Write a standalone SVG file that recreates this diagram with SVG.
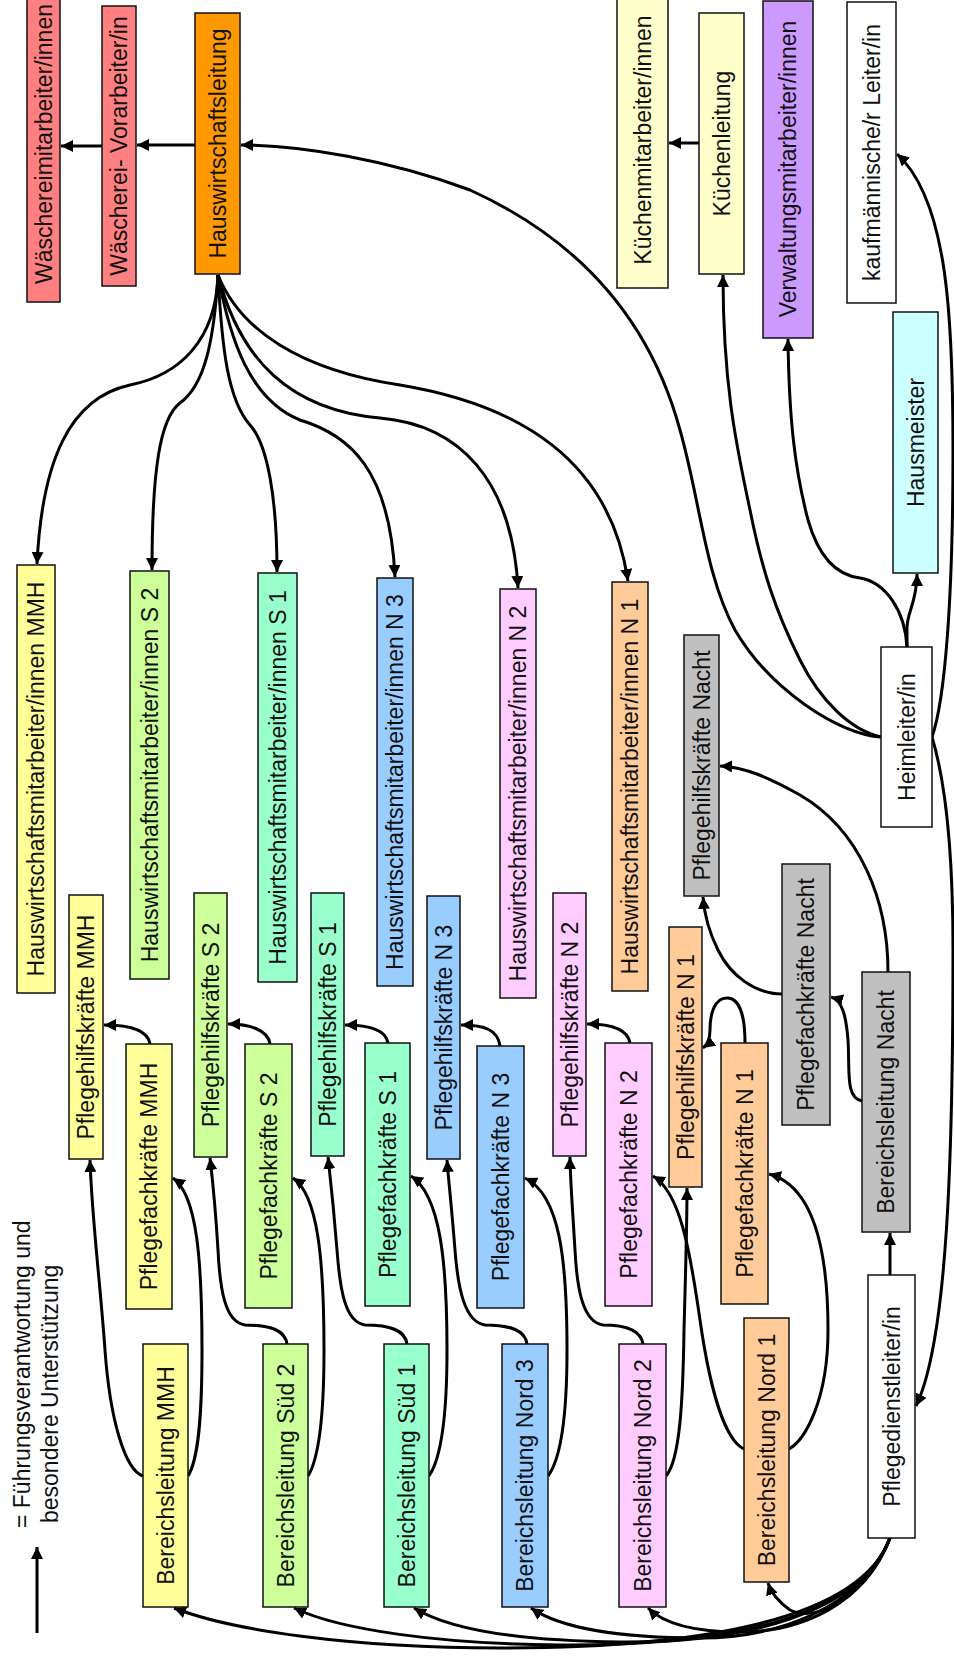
<svg xmlns="http://www.w3.org/2000/svg" width="954" height="1661" viewBox="0 0 954 1661">
<style>
.node rect{stroke:#111;stroke-width:1.5}
.node text{font-family:"Liberation Sans",Arial,sans-serif;font-size:23px;fill:#111;text-anchor:middle}
.edge path{fill:none;stroke:#000;stroke-width:3}
.legend text{font-family:"Liberation Sans",Arial,sans-serif;font-size:23px;fill:#111}
</style>
<defs>
<marker id="ah" viewBox="0 0 10 10" refX="10" refY="5" markerWidth="12" markerHeight="12" markerUnits="userSpaceOnUse" orient="auto">
<path d="M0,0 L10,5 L0,10 z" fill="#000"/>
</marker>
</defs>
<rect x="0" y="0" width="954" height="1661" fill="#fff"/>

<g id="edges" class="edge">
<path marker-end="url(#ah)" d="M195,145 L137,145"/>
<path marker-end="url(#ah)" d="M102,146 L61,146"/>
<path marker-end="url(#ah)" d="M699,143 L669,143"/>
<path marker-end="url(#ah)" d="M881,737 C840,735 770,690 735,630 C705,575 700,500 680,430 C650,320 580,240 470,190 C390,160 300,145 241,145"/>
<path marker-end="url(#ah)" d="M881,737 C850,730 820,700 800,660 C775,610 762,570 750,510 C735,440 723,380 723,275"/>
<path marker-end="url(#ah)" d="M907,647 C905,610 885,582 860,578 C835,575 818,555 808,520 C795,470 789,420 788,339"/>
<path marker-end="url(#ah)" d="M907,647 L907,628 C907,612 917,602 917,574"/>
<path marker-end="url(#ah)" d="M932,737 C945,700 953,600 953,450 C953,320 948,200 897,154"/>
<path marker-end="url(#ah)" d="M932,737 C945,780 953,850 953,950 C953,1150 948,1340 916,1406"/>
<path marker-end="url(#ah)" d="M218,275 C216,340 180,375 130,385 C70,398 42,460 37,564"/>
<path marker-end="url(#ah)" d="M218,275 C214,340 205,385 180,403 C160,418 152,470 152,570"/>
<path marker-end="url(#ah)" d="M218,275 C222,350 228,400 250,425 C268,445 277,500 277,572"/>
<path marker-end="url(#ah)" d="M218,275 C230,340 250,400 300,420 C350,435 390,470 395,577"/>
<path marker-end="url(#ah)" d="M218,275 C240,360 290,410 380,418 C460,425 512,480 518,588"/>
<path marker-end="url(#ah)" d="M218,275 C240,330 300,370 400,385 C520,405 610,460 628,581"/>
<path marker-end="url(#ah)" d="M150,1044 C148,1030 130,1025 104,1025"/>
<path marker-end="url(#ah)" d="M270,1044 C268,1030 250,1024 228,1024"/>
<path marker-end="url(#ah)" d="M388,1043 C386,1030 370,1025 345,1025"/>
<path marker-end="url(#ah)" d="M500,1046 C498,1030 485,1025 461,1025"/>
<path marker-end="url(#ah)" d="M630,1043 C628,1030 612,1024 587,1024"/>
<path marker-end="url(#ah)" d="M745,1043 C745,1012 738,998 727,998 C714,998 710,1015 710,1030 C710,1040 707,1045 703,1048"/>
<path marker-end="url(#ah)" d="M782,994 C755,994 730,975 718,950 C708,930 704,910 703,897"/>
<path marker-end="url(#ah)" d="M888,972 C888,900 860,830 800,795 C770,778 745,767 720,766"/>
<path marker-end="url(#ah)" d="M862,1101 C845,1098 850,1070 848,1040 C846,1015 842,1000 831,997"/>
<path marker-end="url(#ah)" d="M890,1275 L890,1233"/>
<path marker-end="url(#ah)" d="M143,1476 C125,1470 110,1420 105,1350 C100,1280 92,1220 90,1160"/>
<path marker-end="url(#ah)" d="M287,1344 C285,1330 270,1325 245,1325 C225,1322 220,1290 218,1250 C215,1200 212,1175 210,1158"/>
<path marker-end="url(#ah)" d="M407,1344 C405,1330 390,1325 365,1325 C345,1322 340,1290 337,1250 C333,1200 330,1175 328,1157"/>
<path marker-end="url(#ah)" d="M527,1344 C525,1330 510,1325 485,1325 C465,1322 458,1290 455,1250 C451,1200 448,1175 447,1160"/>
<path marker-end="url(#ah)" d="M643,1344 C641,1330 626,1325 603,1325 C583,1322 577,1290 575,1250 C572,1200 570,1175 570,1157"/>
<path marker-end="url(#ah)" d="M188,1476 C198,1460 202,1420 202,1350 C202,1260 197,1195 173,1178"/>
<path marker-end="url(#ah)" d="M308,1476 C318,1460 324,1420 324,1350 C324,1260 318,1195 293,1178"/>
<path marker-end="url(#ah)" d="M429,1476 C440,1460 447,1420 447,1350 C447,1260 440,1195 411,1176"/>
<path marker-end="url(#ah)" d="M548,1476 C560,1460 567,1420 567,1350 C567,1260 560,1195 525,1178"/>
<path marker-end="url(#ah)" d="M666,1476 C680,1460 683,1400 684,1330 C686,1260 687,1220 687,1188"/>
<path marker-end="url(#ah)" d="M744,1449 C725,1440 710,1390 700,1320 C690,1250 680,1192 653,1176"/>
<path marker-end="url(#ah)" d="M789,1449 C805,1440 828,1400 828,1330 C828,1240 810,1185 769,1174"/>
<path marker-end="url(#ah)" d="M890,1538 C860,1620 700,1648 500,1648 C350,1648 230,1630 174,1608"/>
<path marker-end="url(#ah)" d="M890,1538 C860,1620 720,1646 560,1645 C440,1644 340,1630 294,1608"/>
<path marker-end="url(#ah)" d="M890,1538 C860,1615 740,1643 620,1642 C520,1641 450,1630 414,1608"/>
<path marker-end="url(#ah)" d="M890,1538 C860,1612 770,1638 700,1638 C620,1638 560,1628 531,1608"/>
<path marker-end="url(#ah)" d="M890,1538 C865,1605 800,1632 740,1632 C700,1632 665,1625 648,1608"/>
<path marker-end="url(#ah)" d="M890,1538 C870,1590 820,1625 790,1610 C780,1603 772,1595 768,1583"/>
</g>

<g id="n_wasch_ma" class="node"><rect x="27" y="-10" width="33" height="312" fill="#FF8080"/><text transform="translate(43.5,144) rotate(-90)" dy="0.36em">Wäschereimitarbeiter/innen</text></g>
<g id="n_wasch_vor" class="node"><rect x="102" y="6" width="34" height="280" fill="#FF8080"/><text transform="translate(119,146) rotate(-90)" dy="0.36em">Wäscherei- Vorarbeiter/in</text></g>
<g id="n_hwl" class="node"><rect x="195" y="13" width="45" height="261" fill="#FF9900"/><text transform="translate(217.5,143.5) rotate(-90)" dy="0.36em">Hauswirtschaftsleitung</text></g>
<g id="n_kuech_ma" class="node"><rect x="617" y="-8" width="51" height="296" fill="#FFFFCC"/><text transform="translate(642.5,140) rotate(-90)" dy="0.36em">Küchenmitarbeiter/innen</text></g>
<g id="n_kuechl" class="node"><rect x="699" y="13" width="45" height="261" fill="#FFFFCC"/><text transform="translate(721.5,143.5) rotate(-90)" dy="0.36em">Küchenleitung</text></g>
<g id="n_verw" class="node"><rect x="763" y="1" width="50" height="337" fill="#CC99FF"/><text transform="translate(788,169) rotate(-90)" dy="0.36em">Verwaltungsmitarbeiter/innen</text></g>
<g id="n_kauf" class="node"><rect x="847" y="2" width="49" height="301" fill="#FFFFFF"/><text transform="translate(871.5,152.5) rotate(-90)" dy="0.36em">kaufmännische/r Leiter/in</text></g>
<g id="n_hausm" class="node"><rect x="893" y="312" width="45" height="261" fill="#CCFFFF"/><text transform="translate(915.5,442.5) rotate(-90)" dy="0.36em">Hausmeister</text></g>

<g id="n_hw_mmh" class="node"><rect x="17" y="565" width="38" height="428" fill="#FFFF99"/><text transform="translate(36,779) rotate(-90)" dy="0.36em">Hauswirtschaftsmitarbeiter/innen MMH</text></g>
<g id="n_hw_s2" class="node"><rect x="130" y="571" width="39" height="408" fill="#CCFF99"/><text transform="translate(149.5,775) rotate(-90)" dy="0.36em">Hauswirtschaftsmitarbeiter/innen S 2</text></g>
<g id="n_hw_s1" class="node"><rect x="258" y="573" width="39" height="409" fill="#99FFCC"/><text transform="translate(277.5,777.5) rotate(-90)" dy="0.36em">Hauswirtschaftsmitarbeiter/innen S 1</text></g>
<g id="n_hw_n3" class="node"><rect x="377" y="578" width="36" height="408" fill="#99CCFF"/><text transform="translate(395,782) rotate(-90)" dy="0.36em">Hauswirtschaftsmitarbeiter/innen N 3</text></g>
<g id="n_hw_n2" class="node"><rect x="500" y="589" width="36" height="409" fill="#FFCCFF"/><text transform="translate(518,793.5) rotate(-90)" dy="0.36em">Hauswirtschaftsmitarbeiter/innen N 2</text></g>
<g id="n_hw_n1" class="node"><rect x="612" y="582" width="36" height="409" fill="#FFCC99"/><text transform="translate(630,786.5) rotate(-90)" dy="0.36em">Hauswirtschaftsmitarbeiter/innen N 1</text></g>
<g id="n_ph_nacht" class="node"><rect x="684" y="635" width="35" height="261" fill="#C0C0C0"/><text transform="translate(701.5,765.5) rotate(-90)" dy="0.36em">Pflegehilfskräfte Nacht</text></g>
<g id="n_heim" class="node"><rect x="881" y="647" width="51" height="180" fill="#FFFFFF"/><text transform="translate(906.5,737) rotate(-90)" dy="0.36em">Heimleiter/in</text></g>

<g id="n_ph_mmh" class="node"><rect x="69" y="895" width="34" height="264" fill="#FFFF99"/><text transform="translate(86,1027) rotate(-90)" dy="0.36em">Pflegehilfskräfte MMH</text></g>
<g id="n_pf_mmh" class="node"><rect x="126" y="1044" width="46" height="265" fill="#FFFF99"/><text transform="translate(149,1176.5) rotate(-90)" dy="0.36em">Pflegefachkräfte MMH</text></g>
<g id="n_bl_mmh" class="node"><rect x="143" y="1344" width="45" height="263" fill="#FFFF99"/><text transform="translate(165.5,1475.5) rotate(-90)" dy="0.36em">Bereichsleitung MMH</text></g>
<g id="n_ph_s2" class="node"><rect x="194" y="893" width="33" height="264" fill="#CCFF99"/><text transform="translate(210.5,1025) rotate(-90)" dy="0.36em">Pflegehilfskräfte S 2</text></g>
<g id="n_pf_s2" class="node"><rect x="245" y="1044" width="47" height="264" fill="#CCFF99"/><text transform="translate(268.5,1176) rotate(-90)" dy="0.36em">Pflegefachkräfte S 2</text></g>
<g id="n_bl_s2" class="node"><rect x="263" y="1344" width="45" height="263" fill="#CCFF99"/><text transform="translate(285.5,1475.5) rotate(-90)" dy="0.36em">Bereichsleitung Süd 2</text></g>
<g id="n_ph_s1" class="node"><rect x="311" y="893" width="33" height="263" fill="#99FFCC"/><text transform="translate(327.5,1024.5) rotate(-90)" dy="0.36em">Pflegehilfskräfte S 1</text></g>
<g id="n_pf_s1" class="node"><rect x="365" y="1043" width="45" height="263" fill="#99FFCC"/><text transform="translate(387.5,1174.5) rotate(-90)" dy="0.36em">Pflegefachkräfte S 1</text></g>
<g id="n_bl_s1" class="node"><rect x="384" y="1344" width="45" height="263" fill="#99FFCC"/><text transform="translate(406.5,1475.5) rotate(-90)" dy="0.36em">Bereichsleitung Süd 1</text></g>
<g id="n_ph_n3" class="node"><rect x="427" y="896" width="33" height="263" fill="#99CCFF"/><text transform="translate(443.5,1027.5) rotate(-90)" dy="0.36em">Pflegehilfskräfte N 3</text></g>
<g id="n_pf_n3" class="node"><rect x="477" y="1046" width="47" height="262" fill="#99CCFF"/><text transform="translate(500.5,1177) rotate(-90)" dy="0.36em">Pflegefachkräfte N 3</text></g>
<g id="n_bl_n3" class="node"><rect x="502" y="1344" width="46" height="263" fill="#99CCFF"/><text transform="translate(525,1475.5) rotate(-90)" dy="0.36em">Bereichsleitung Nord 3</text></g>
<g id="n_ph_n2" class="node"><rect x="553" y="893" width="33" height="263" fill="#FFCCFF"/><text transform="translate(569.5,1024.5) rotate(-90)" dy="0.36em">Pflegehilfskräfte N 2</text></g>
<g id="n_pf_n2" class="node"><rect x="605" y="1043" width="47" height="263" fill="#FFCCFF"/><text transform="translate(628.5,1174.5) rotate(-90)" dy="0.36em">Pflegefachkräfte N 2</text></g>
<g id="n_bl_n2" class="node"><rect x="619" y="1344" width="47" height="263" fill="#FFCCFF"/><text transform="translate(642.5,1475.5) rotate(-90)" dy="0.36em">Bereichsleitung Nord 2</text></g>
<g id="n_ph_n1" class="node"><rect x="669" y="927" width="33" height="260" fill="#FFCC99"/><text transform="translate(685.5,1057) rotate(-90)" dy="0.36em">Pflegehilfskräfte N 1</text></g>
<g id="n_pf_n1" class="node"><rect x="721" y="1043" width="47" height="261" fill="#FFCC99"/><text transform="translate(744.5,1173.5) rotate(-90)" dy="0.36em">Pflegefachkräfte N 1</text></g>
<g id="n_bl_n1" class="node"><rect x="744" y="1318" width="45" height="264" fill="#FFCC99"/><text transform="translate(766.5,1450) rotate(-90)" dy="0.36em">Bereichsleitung Nord 1</text></g>
<g id="n_pf_nacht" class="node"><rect x="782" y="864" width="48" height="261" fill="#C0C0C0"/><text transform="translate(806,994.5) rotate(-90)" dy="0.36em">Pflegefachkräfte Nacht</text></g>
<g id="n_bl_nacht" class="node"><rect x="862" y="972" width="48" height="260" fill="#C0C0C0"/><text transform="translate(886,1102) rotate(-90)" dy="0.36em">Bereichsleitung Nacht</text></g>
<g id="n_pdl" class="node"><rect x="868" y="1275" width="47" height="263" fill="#FFFFFF"/><text transform="translate(891.5,1406.5) rotate(-90)" dy="0.36em">Pflegedienstleiter/in</text></g>

<g id="legend" class="legend">
<path d="M37,1633 L37,1547" fill="none" stroke="#000" stroke-width="3" marker-end="url(#ah)"/>
<text transform="translate(22,1528) rotate(-90)" dy="0.36em">= Führungsverantwortung und</text>
<text transform="translate(50,1523) rotate(-90)" dy="0.36em">besondere Unterstützung</text>
</g>
</svg>
